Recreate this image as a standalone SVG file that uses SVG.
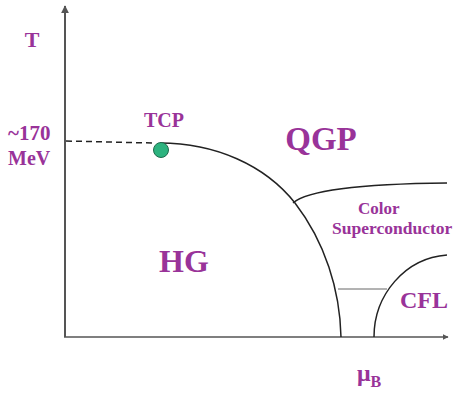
<svg xmlns="http://www.w3.org/2000/svg" width="454" height="396" viewBox="0 0 454 396">
<defs>
<style>
.lbl{font-family:"Liberation Serif","Times New Roman",serif;font-weight:bold;fill:#993399}
.ax{stroke:#555;fill:none}
.ln{stroke:#222;stroke-width:1.5;fill:none}
</style>
<marker id="ah" viewBox="0 0 10 10" refX="9" refY="5" markerWidth="4" markerHeight="4" orient="auto">
<path d="M0,0 L10,5 L0,10 z" fill="#555"/>
</marker>
</defs>
<rect width="454" height="396" fill="#fff"/>
<g id="axes">
<line class="ax" x1="65" y1="337" x2="65" y2="6" stroke-width="2" marker-end="url(#ah)"/>
<line class="ax" x1="64" y1="337" x2="448" y2="337" stroke-width="1.5" marker-end="url(#ah)"/>
</g>
<g id="connectors">
<path class="ln" d="M66,141 L152,143" stroke-dasharray="6,4"/>
<path class="ln" d="M160,143 C215,143 265,165 295,203 C325,242 340,290 341,337"/>
<path class="ln" d="M293,203 C305,192 350,184 447,183"/>
<path d="M338,289 L387,289" stroke="#666" stroke-width="1" fill="none"/>
<path class="ln" d="M374,337 C374,295 405,258 447,255"/>
</g>
<g id="tcp">
<circle cx="161" cy="150" r="7.5" fill="#2db37f" stroke="#1e6b4c" stroke-width="1"/>
<text class="lbl" x="164" y="127" font-size="20" text-anchor="middle">TCP</text>
</g>
<g id="labels">
<text class="lbl" x="32" y="47" font-size="22" text-anchor="middle">T</text>
<text class="lbl" x="8" y="140" font-size="21">~170</text>
<text class="lbl" x="8" y="165" font-size="20">MeV</text>
<text class="lbl" x="321" y="150" font-size="33" text-anchor="middle">QGP</text>
<text class="lbl" x="184" y="272" font-size="32" text-anchor="middle">HG</text>
<text class="lbl" x="358" y="214" font-size="17">Color</text>
<text class="lbl" x="332" y="234" font-size="17.5">Superconductor</text>
<text class="lbl" x="400" y="308" font-size="24">CFL</text>
<text class="lbl" x="357" y="381" font-size="24">μ<tspan font-size="16" dy="6">B</tspan></text>
</g>
</svg>
